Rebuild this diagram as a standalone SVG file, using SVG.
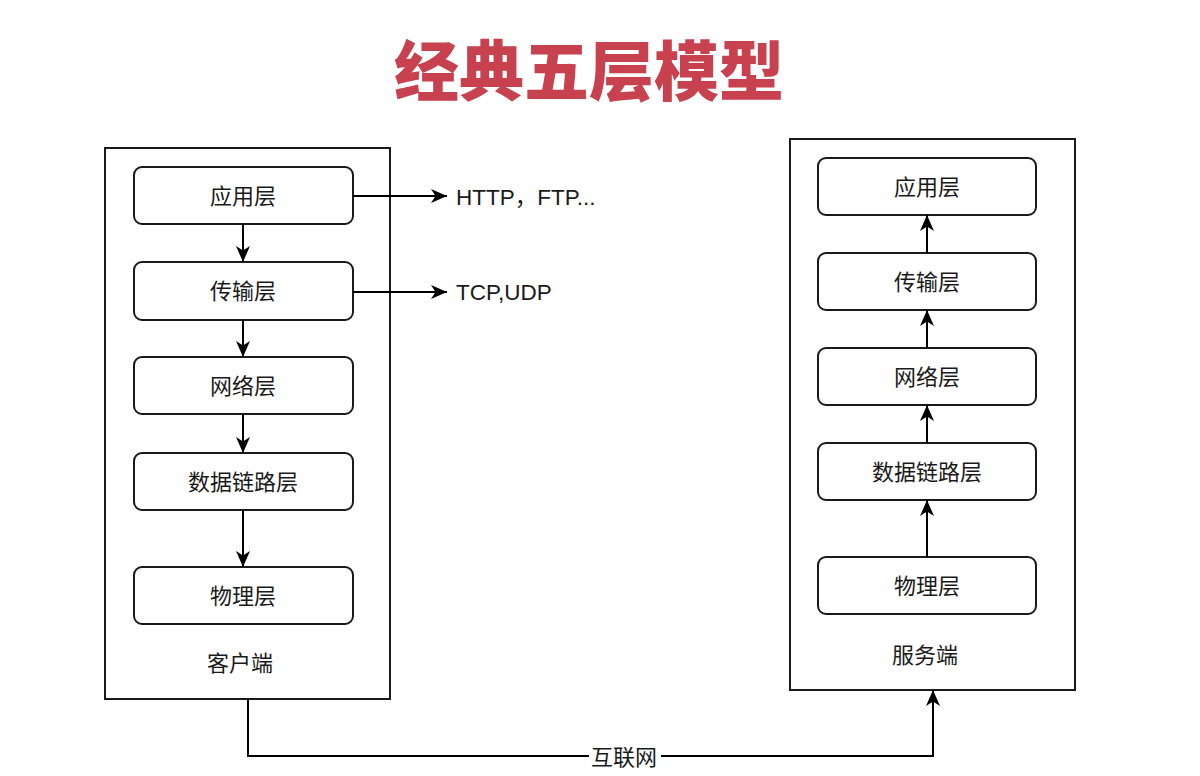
<svg xmlns="http://www.w3.org/2000/svg" width="1200" height="776" viewBox="0 0 1200 776">
<defs>
<marker id="arr" viewBox="0 0 16 14" refX="16" refY="7" markerWidth="16" markerHeight="14" markerUnits="userSpaceOnUse" orient="auto">
<path d="M0,0 L16,7 L0,14 L4.5,7 Z" fill="#000"/>
</marker>
<style>
.box{fill:#fff;stroke:#1a1a1a;stroke-width:2}
.node{fill:#fff;stroke:#1a1a1a;stroke-width:2}
.lbl{font-family:"Liberation Sans","Noto Sans CJK SC",sans-serif;font-size:22px;fill:#1a1a1a;text-anchor:middle;dominant-baseline:central}
.proto{font-family:"Liberation Sans","Noto Sans CJK SC",sans-serif;font-size:22.5px;fill:#1a1a1a;dominant-baseline:central}
.conn{fill:none;stroke:#000;stroke-width:2;marker-end:url(#arr)}
.title{font-family:"Noto Sans CJK SC",sans-serif;font-size:65px;font-weight:900;fill:#C8414F;text-anchor:middle}
</style>
</defs>
<rect width="1200" height="776" fill="#fff"/>
<text class="title" x="589" y="95">经典五层模型</text>

<g id="client">
<rect class="box" x="105" y="148" width="285" height="551"/>
<text class="lbl" x="240" y="663">客户端</text>
</g>
<g id="server">
<rect class="box" x="790" y="139" width="285" height="551"/>
<text class="lbl" x="925" y="655">服务端</text>
</g>

<g id="c-app"><rect class="node" x="134" y="167" width="219" height="57" rx="8"/><text class="lbl" x="243" y="196">应用层</text></g>
<g id="c-trans"><rect class="node" x="134" y="262" width="219" height="58" rx="8"/><text class="lbl" x="243" y="291">传输层</text></g>
<g id="c-net"><rect class="node" x="134" y="357" width="219" height="57" rx="8"/><text class="lbl" x="243" y="386">网络层</text></g>
<g id="c-link"><rect class="node" x="134" y="453" width="219" height="57" rx="8"/><text class="lbl" x="243" y="482">数据链路层</text></g>
<g id="c-phy"><rect class="node" x="134" y="567" width="219" height="57" rx="8"/><text class="lbl" x="243" y="596">物理层</text></g>

<g id="s-app"><rect class="node" x="818" y="158" width="218" height="57" rx="8"/><text class="lbl" x="927" y="187">应用层</text></g>
<g id="s-trans"><rect class="node" x="818" y="253" width="218" height="57" rx="8"/><text class="lbl" x="927" y="282">传输层</text></g>
<g id="s-net"><rect class="node" x="818" y="348" width="218" height="57" rx="8"/><text class="lbl" x="927" y="377">网络层</text></g>
<g id="s-link"><rect class="node" x="818" y="443" width="218" height="57" rx="8"/><text class="lbl" x="927" y="472">数据链路层</text></g>
<g id="s-phy"><rect class="node" x="818" y="557" width="218" height="57" rx="8"/><text class="lbl" x="927" y="586">物理层</text></g>

<g id="proto-http"><text class="proto" x="456" y="197">HTTP，FTP...</text></g>
<g id="proto-tcp"><text class="proto" x="456" y="292">TCP,UDP</text></g>

<g id="connectors">
<line class="conn" x1="243" y1="224" x2="243" y2="262"/>
<line class="conn" x1="243" y1="320" x2="243" y2="357"/>
<line class="conn" x1="243" y1="414" x2="243" y2="453"/>
<line class="conn" x1="243" y1="510" x2="243" y2="567"/>
<line class="conn" x1="927" y1="557" x2="927" y2="500"/>
<line class="conn" x1="927" y1="443" x2="927" y2="405"/>
<line class="conn" x1="927" y1="348" x2="927" y2="310"/>
<line class="conn" x1="927" y1="253" x2="927" y2="215"/>
<line class="conn" x1="353" y1="196" x2="447" y2="196"/>
<line class="conn" x1="353" y1="292" x2="447" y2="292"/>
<path class="conn" d="M248,699 V756 H933 V690"/>
<rect x="589" y="744" width="72" height="24" fill="#fff"/>
<text class="lbl" x="624" y="757">互联网</text>
</g>
</svg>
